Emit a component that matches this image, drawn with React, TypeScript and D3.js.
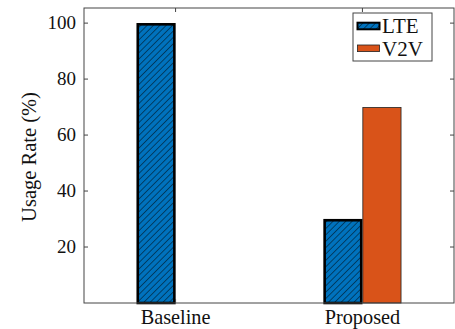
import * as d3 from "d3";

const categories = ["Baseline", "Proposed"];
const series = ["LTE", "V2V"];
const lteValues = [100, 30];
const v2vValues = [0, 70];
const yTicks = [20, 40, 60, 80, 100];

const W = 455;
const H = 329;
const m = { left: 84, right: 454, top: 8, bottom: 303 };
const FONT = "'Liberation Serif', 'Times New Roman', serif";
const BLUE = "#0072BD";
const ORANGE = "#D95319";

export default function App() {
  const x = d3.scalePoint<string>().domain(categories).range([m.left, m.right]).padding(0.49);
  const sub = d3.scaleBand<string>().domain(series).range([-39, 39]).padding(0);
  const y = d3.scaleLinear().domain([0, 105.4]).range([m.bottom, m.top]);

  const rows = categories.map((c, i) => ({ c, vals: [lteValues[i], v2vValues[i]] }));

  return (
    <svg
      width={W}
      height={H}
      style={{ position: "absolute", left: 0, top: 0 }}
      fontFamily={FONT}
    >
      <defs>
        <pattern id="hatch" width={4.5} height={4.5} patternUnits="userSpaceOnUse" patternTransform="rotate(45)">
          <rect width={4.5} height={4.5} fill={BLUE} />
          <line x1={0} y1={0} x2={0} y2={4.5} stroke="#000" strokeWidth={0.9} />
        </pattern>
      </defs>
      <rect width={W} height={H} fill="#fff" />

      {rows.map((r) =>
        r.vals.map((v, j) => {
          const cx = x(r.c) ?? 0;
          const bx = cx + (sub(series[j]) ?? 0);
          const isLte = j === 0;
          return (
            <rect
              key={r.c + j}
              x={bx + (isLte ? 1.2 : 0.4)}
              y={y(v) + (isLte && v > 0 ? 1.2 : 0.4)}
              width={sub.bandwidth() - (isLte ? 2.4 : 0.8)}
              height={Math.max(0, y(0) - y(v) - (isLte && v > 0 ? 1.2 : 0.4))}
              fill={isLte ? "url(#hatch)" : ORANGE}
              stroke={isLte ? "#000" : "#222"}
              strokeWidth={isLte ? 2.6 : 0.8}
            />
          );
        })
      )}

      {/* axis box */}
      <rect
        x={m.left}
        y={m.top}
        width={m.right - m.left}
        height={m.bottom - m.top}
        fill="none"
        stroke="#444"
        strokeWidth={1}
      />

      {yTicks.map((t) => (
        <g key={t}>
          <line x1={m.left} x2={m.left + 4} y1={y(t)} y2={y(t)} stroke="#444" />
          <line x1={m.right - 4} x2={m.right} y1={y(t)} y2={y(t)} stroke="#444" />
          <text x={m.left - 8} y={y(t)} dy="0.33em" textAnchor="end" fontSize={19} fill="#111">
            {t}
          </text>
        </g>
      ))}

      {categories.map((c) => (
        <g key={c}>
          <line x1={x(c)} x2={x(c)} y1={m.bottom} y2={m.bottom - 4} stroke="#444" />
          <line x1={x(c)} x2={x(c)} y1={m.top} y2={m.top + 4} stroke="#444" />
          <text x={x(c)} y={324} textAnchor="middle" fontSize={20.3} fill="#111">
            {c}
          </text>
        </g>
      ))}

      <text
        transform={`translate(36,${157}) rotate(-90)`}
        textAnchor="middle"
        fontSize={20.5}
        fill="#111"
      >
        Usage Rate (%)
      </text>

      {/* legend */}
      <g transform="translate(353,13)">
        <rect width={79} height={48} fill="#fff" stroke="#444" strokeWidth={1} />
        {series.map((s, i) => (
          <g key={s} transform={`translate(0,${13 + i * 22.3})`}>
            <rect
              x={4.5}
              y={-3.3}
              width={22}
              height={6.6}
              fill={i === 0 ? "url(#hatch)" : ORANGE}
              stroke={i === 0 ? "#000" : "#222"}
              strokeWidth={i === 0 ? 2 : 0.8}
            />
            <text x={29} y={7.3} fontSize={21} fill="#111">
              {s}
            </text>
          </g>
        ))}
      </g>
    </svg>
  );
}
